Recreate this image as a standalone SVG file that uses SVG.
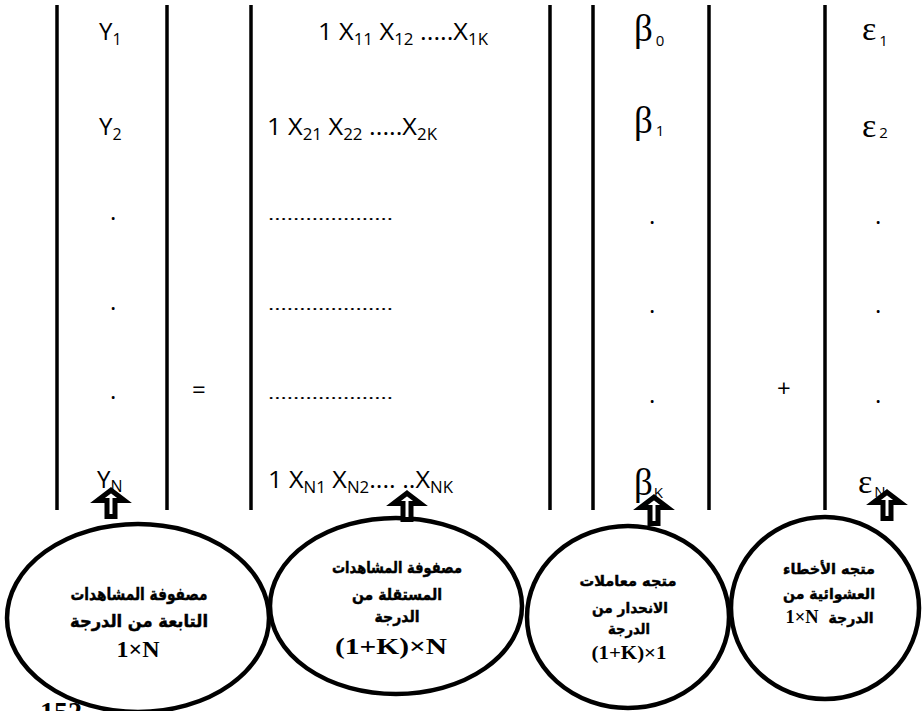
<svg xmlns="http://www.w3.org/2000/svg" width="922" height="711" viewBox="0 0 922 711">
<style>
.bar{stroke:#000;stroke-width:3.5;fill:none}
.m{font-family:"Open Sans","DejaVu Sans",sans-serif;font-size:24px;fill:#000}
.s{font-size:16px}
.g{font-family:"Liberation Serif","DejaVu Serif",serif;font-size:37px;fill:#000}
.gs{font-family:"Open Sans",sans-serif;font-size:15px}
.e{font-family:"Liberation Serif","DejaVu Serif",serif;font-size:34px;fill:#000}
.el{fill:#fff;stroke:#000;stroke-width:4.5}
.ar{font-family:"DejaVu Sans",sans-serif;font-weight:bold;fill:#000;stroke:#000;stroke-width:0.45;text-anchor:middle}
.tn{font-family:"Liberation Serif","Times New Roman",serif;font-weight:bold;fill:#000;text-anchor:middle}
.arrow{fill:#fff;stroke:#000;stroke-width:5;stroke-linejoin:miter}
</style>
<defs>
<path id="up" d="M0,3.2 L13.5,13.5 L4,13.5 L4,29.5 L-4,29.5 L-4,13.5 L-13.5,13.5 Z"/>
</defs>
<rect width="922" height="711" fill="#fff"/>
<g id="matrix-bars">
<line class="bar" x1="57" y1="5" x2="57" y2="510"/>
<line class="bar" x1="167" y1="5" x2="167" y2="510"/>
<line class="bar" x1="251" y1="5" x2="251" y2="510"/>
<line class="bar" x1="550" y1="5" x2="550" y2="510"/>
<line class="bar" x1="593" y1="5" x2="593" y2="510"/>
<line class="bar" x1="709" y1="5" x2="709" y2="510"/>
<line class="bar" x1="825" y1="5" x2="825" y2="510"/>
</g>
<g id="col-y" class="m">
<text x="99" y="40">Y<tspan class="s" dy="5">1</tspan></text>
<text x="99" y="135">Y<tspan class="s" dy="5">2</tspan></text>
<text x="110" y="220">.</text>
<text x="110" y="310">.</text>
<text x="110" y="399">.</text>
<text x="97" y="488">Y<tspan class="s" dy="4">N</tspan></text>
</g>
<g id="col-x" class="m">
<text x="318" y="40" textLength="170" lengthAdjust="spacingAndGlyphs">1 X<tspan class="s" dy="5">11</tspan><tspan dy="-5"> X</tspan><tspan class="s" dy="5">12</tspan><tspan dy="-5"> .....X</tspan><tspan class="s" dy="5">1K</tspan></text>
<text x="267" y="135" textLength="170" lengthAdjust="spacingAndGlyphs">1 X<tspan class="s" dy="5">21</tspan><tspan dy="-5"> X</tspan><tspan class="s" dy="5">22</tspan><tspan dy="-5"> .....X</tspan><tspan class="s" dy="5">2K</tspan></text>
<text x="268" y="220" font-size="16" textLength="125" lengthAdjust="spacingAndGlyphs">....................</text>
<text x="268" y="310" font-size="16" textLength="125" lengthAdjust="spacingAndGlyphs">....................</text>
<text x="268" y="399" font-size="16" textLength="125" lengthAdjust="spacingAndGlyphs">....................</text>
<text x="268" y="488" textLength="185" lengthAdjust="spacingAndGlyphs">1 X<tspan class="s" dy="5">N1</tspan><tspan dy="-5"> X</tspan><tspan class="s" dy="5">N2</tspan><tspan dy="-5">.... ..X</tspan><tspan class="s" dy="5">NK</tspan></text>
</g>
<g id="ops" class="m">
<text x="192" y="398">=</text>
<text x="777" y="397">+</text>
</g>
<g id="col-beta">
<text class="g" x="634" y="41">β<tspan class="gs" dx="3" dy="5" font-size="13">0</tspan></text>
<text class="g" x="634" y="133">β<tspan class="gs" dx="3" dy="3">1</tspan></text>
<text class="m" x="649" y="224">.</text>
<text class="m" x="649" y="313">.</text>
<text class="m" x="649" y="403">.</text>
<text class="g" x="634" y="495">β<tspan class="gs" dx="1" dy="3">K</tspan></text>
</g>
<g id="col-eps">
<text class="e" x="862" y="40">ε<tspan class="gs" dx="3" dy="6" font-size="18">1</tspan></text>
<text class="e" x="862" y="137">ε<tspan class="gs" dx="3" dy="1" font-size="18">2</tspan></text>
<text class="m" x="875" y="224">.</text>
<text class="m" x="875" y="313">.</text>
<text class="m" x="875" y="403">.</text>
<text class="e" x="858" y="493">ε<tspan class="gs" dx="2" dy="4">N</tspan></text>
</g>
<text x="40" y="721" class="tn" style="text-anchor:start" font-size="28">152</text>
<g id="node-y">
<ellipse class="el" cx="138" cy="618" rx="131" ry="94"/>
<text class="ar" x="139" y="600" font-size="17" direction="rtl" textLength="137" lengthAdjust="spacingAndGlyphs">مصفوفة المشاهدات</text>
<text class="ar" x="139" y="627" font-size="17" direction="rtl" textLength="138" lengthAdjust="spacingAndGlyphs">التابعة من الدرجة</text>
<text class="tn" x="138" y="657" font-size="24">1×N</text>
</g>
<g id="node-x">
<ellipse class="el" cx="396" cy="606" rx="126" ry="88"/>
<text class="ar" x="397" y="573" font-size="16" direction="rtl" textLength="130" lengthAdjust="spacingAndGlyphs">مصفوفة المشاهدات</text>
<text class="ar" x="397" y="600" font-size="16" direction="rtl" textLength="90" lengthAdjust="spacingAndGlyphs">المستقلة  من</text>
<text class="ar" x="397" y="622" font-size="16" direction="rtl" textLength="45" lengthAdjust="spacingAndGlyphs">الدرجة</text>
<text class="tn" x="391" y="654" font-size="24" textLength="112" lengthAdjust="spacingAndGlyphs">(1+K)×N</text>
</g>
<g id="node-beta">
<ellipse class="el" cx="628" cy="617" rx="101" ry="91"/>
<text class="ar" x="628" y="586" font-size="15" direction="rtl" textLength="97" lengthAdjust="spacingAndGlyphs">متجه معاملات</text>
<text class="ar" x="630" y="613" font-size="15" direction="rtl" textLength="76" lengthAdjust="spacingAndGlyphs">الانحدار من</text>
<text class="ar" x="629" y="634" font-size="15" direction="rtl" textLength="42" lengthAdjust="spacingAndGlyphs">الدرجة</text>
<text class="tn" x="629" y="659" font-size="18" textLength="75" lengthAdjust="spacingAndGlyphs">(1+K)×1</text>
</g>
<g id="node-eps">
<ellipse class="el" cx="825" cy="608" rx="94" ry="91"/>
<text class="ar" x="829" y="574" font-size="15" direction="rtl" textLength="92" lengthAdjust="spacingAndGlyphs">متجه الأخطاء</text>
<text class="ar" x="829" y="599" font-size="15" direction="rtl" textLength="92" lengthAdjust="spacingAndGlyphs">العشوائية من</text>
<text class="ar" x="851" y="623" font-size="15" direction="rtl" textLength="45" lengthAdjust="spacingAndGlyphs">الدرجة</text>
<text class="tn" x="802" y="623" font-size="18" textLength="33" lengthAdjust="spacingAndGlyphs">1×N</text>
</g>
<g id="connectors">
<use href="#up" class="arrow" x="111" y="487"/>
<use href="#up" class="arrow" x="407" y="490"/>
<use href="#up" class="arrow" x="654" y="494"/>
<use href="#up" class="arrow" x="887" y="489"/>
</g>
</svg>
